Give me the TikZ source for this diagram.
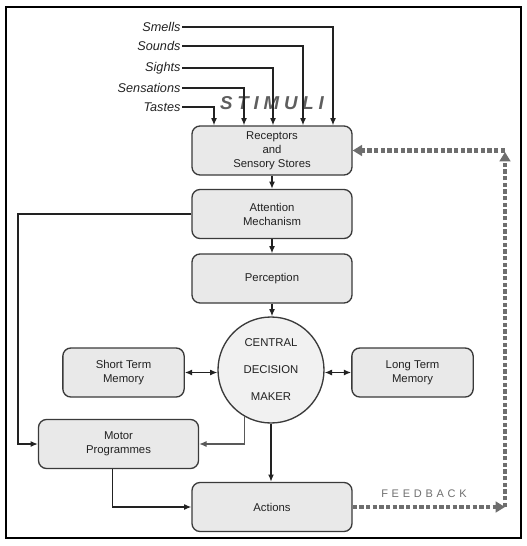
\documentclass[tikz,border=0pt]{standalone}
\usepackage{fontspec}
\setmainfont{Liberation Sans}
\usetikzlibrary{arrows.meta}
\definecolor{boxfill}{HTML}{E9E9E9}
\definecolor{circfill}{HTML}{F1F1F1}
\definecolor{boxline}{HTML}{3A3A3A}
\definecolor{txt}{HTML}{222222}
\definecolor{fbgray}{HTML}{6E6E6E}
\tikzset{
  stagebox/.style={draw=boxline, line width=1pt, fill=boxfill, rounded corners=6pt,
    minimum width=120pt, minimum height=36.75pt, align=center, text=txt,
    font=\fontsize{8.5}{10.5}\selectfont, inner sep=1pt},
  membox/.style={stagebox, minimum width=91pt},
  stim/.style={anchor=east, font=\fontsize{9.5}{11}\selectfont\itshape, text=txt, inner sep=1pt},
  conn/.style={draw=txt, line width=0.9pt, -{Latex[length=5.5pt,width=4.5pt]}},
  fb/.style={draw=fbgray, line width=3.6pt, dash pattern=on 3.2pt off 1.8pt,
    -{Triangle[length=7pt,width=8pt]}, shorten >=0pt},
}
\begin{document}
\begin{tikzpicture}[x=0.75pt,y=-0.75pt]
\useasboundingbox (0,0) rectangle (527,546);
\draw[line width=1pt] (6,7) rectangle (521,538);

% nodes
\node[stagebox] (rec) at (272,150.5) {Receptors\\and\\Sensory Stores};
\node[stagebox] (att) at (272,214) {Attention\\Mechanism};
\node[stagebox] (per) at (272,278.5) {Perception};
\node[circle, draw=boxline, line width=1pt, fill=circfill, minimum size=79.5pt, inner sep=0pt,
  align=center, text=txt, font=\fontsize{8.5}{20.25}\selectfont] (cdm) at (271,370) {CENTRAL\\DECISION\\MAKER};
\node[membox] (stm) at (123.5,372.5) {Short Term\\Memory};
\node[membox] (ltm) at (412.5,372.5) {Long Term\\Memory};
\node[stagebox] (mot) at (118.5,444) {Motor\\Programmes};
\node[stagebox] (act) at (272,507) {Actions};

% stimuli labels
\node[stim] (sm) at (182,27) {Smells};
\node[stim] (so) at (182,46) {Sounds};
\node[stim] (si) at (182,68) {Sights};
\node[stim] (se) at (182,88) {Sensations};
\node[stim] (ta) at (182,107) {Tastes};
\node[font=\fontsize{14}{16}\selectfont\bfseries\itshape\addfontfeature{LetterSpace=26}, text=fbgray!85!black] (stimuli) at (272,103) {STIMULI};

\coordinate (c1) at (333,0);
\coordinate (c2) at (303,0);
\coordinate (c3) at (273,0);
\coordinate (c4) at (244,0);
\coordinate (c5) at (214,0);
\draw[conn] (sm.east) -| (c1 |- rec.north);
\draw[conn] (so.east) -| (c2 |- rec.north);
\draw[conn] (si.east) -| (c3 |- rec.north);
\draw[conn] (se.east) -| (c4 |- rec.north);
\draw[conn] (ta.east) -| (c5 |- rec.north);

% main chain
\draw[conn] (rec) -- (att);
\draw[conn] (att) -- (per);
\draw[conn] (per.south) -- (per.south |- cdm.north);
\draw[conn, line width=1.3pt] (cdm.south) -- (cdm.south |- act.north);
\draw[conn, {Latex[length=5.5pt,width=4.5pt]}-{Latex[length=5.5pt,width=4.5pt]}] (stm.east) -- (stm.east -| cdm.west);
\draw[conn, {Latex[length=5.5pt,width=4.5pt]}-{Latex[length=5.5pt,width=4.5pt]}] (ltm.west -| cdm.east) -- (ltm.west);

% side connectors
\coordinate (lx) at (18,0);
\draw[conn] (att.west) -| (lx |- mot.west) -- (mot.west);
\draw[conn, draw=gray!70!black] (cdm.240) |- (mot.east);
\draw[conn] ([xshift=-4.5pt]mot.south) |- (act.west);

% feedback
\coordinate (f1) at (505,507);
\coordinate (f2) at (505,152);
\coordinate (f3) at (505,150.5);
\draw[fb] (act.east) -- (f1);
\draw[fb] (f1) -- (f2);
\draw[fb] (f3) -- (rec.east);
\node[font=\fontsize{8.25}{10}\selectfont\addfontfeature{LetterSpace=34}, text=fbgray] (fbtext) at (424,494) {FEEDBACK};
\end{tikzpicture}
\end{document}
